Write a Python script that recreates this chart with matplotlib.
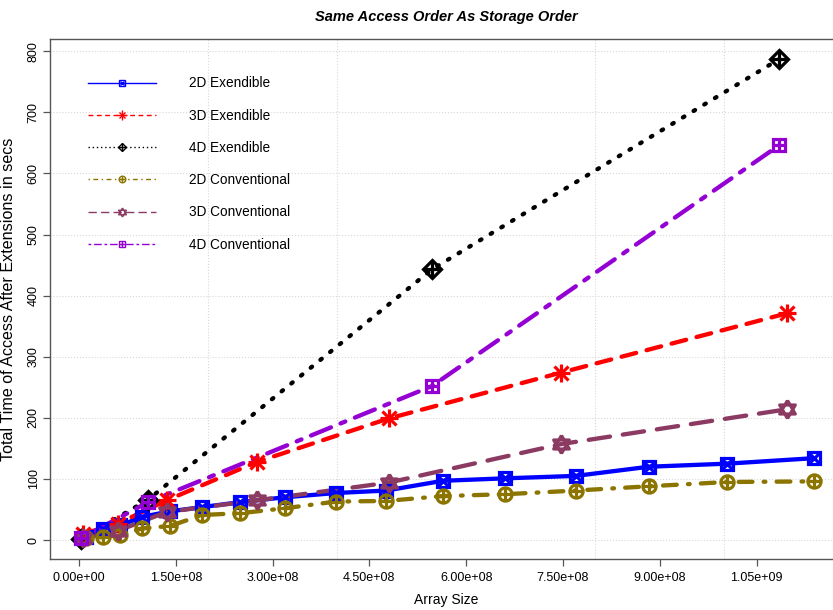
#!/usr/bin/env python
# -*- coding: utf-8 -*-
"""
access time after extensions, same access order as storage order
"""

import numpy as np
import matplotlib
matplotlib.use("Agg")
import matplotlib.pyplot as plt
from matplotlib.lines import Line2D
from matplotlib.ticker import FixedLocator

plt.rcParams['font.family'] = ['Liberation Sans', 'DejaVu Sans']

# array sizes (x) and times in secs (y)
size_2d = [1.1e7, 3.7e7, 6.4e7, 9.8e7, 1.41e8, 1.91e8, 2.50e8, 3.19e8,
           3.98e8, 4.76e8, 5.64e8, 6.60e8, 7.70e8, 8.83e8, 1.004e9, 1.139e9]
ext_2d = [5, 18, 24, 38, 47, 54, 62, 70, 77, 81, 97, 101, 105, 120, 125, 134]
conv_2d = [3, 5, 8, 19, 23, 41, 44, 52, 63, 64, 72, 75, 81, 88, 95, 96]

size_3d = [6e6, 6.0e7, 1.36e8, 2.76e8, 4.80e8, 7.47e8, 1.097e9]
ext_3d = [10, 27, 65, 128, 199, 274, 371]
conv_3d = [3, 15, 46, 65, 94, 157, 214]

size_4d = [3e6, 1.07e8, 5.47e8, 1.085e9]
ext_4d = [2, 66, 443, 787]
conv_4d = [3, 62, 252, 646]

labels = ["2D Exendible", "3D Exendible", "4D Exendible",
          "2D Conventional", "3D Conventional", "4D Conventional"]
xticks = [0, 1.5e8, 3.0e8, 4.5e8, 6.0e8, 7.5e8, 9.0e8, 1.05e9]
xgrid = [0, 2e8, 4e8, 6e8, 8e8, 1e9]
yticks = [0, 100, 200, 300, 400, 500, 600, 700, 800]

tri_up = [(0, 1), (-0.866, -0.5), (0.866, -0.5), (0, 1)]
tri_dn = [(0, -1), (-0.866, 0.5), (0.866, 0.5), (0, -1)]

# (x, y, colour, dashes in plot, dashes in legend, [(marker, size)])
series = [
    (size_2d, ext_2d, '#0000FF', None, None, [('s', 8.5), ('x', 7)]),
    (size_3d, ext_3d, '#FF0000', (3.5, 2.5), (3.5, 2.5), [('+', 13), ('x', 10)]),
    (size_4d, ext_4d, '#000000', (0.4, 2.5), (1, 2), [('D', 9), ('+', 12.5)]),
    (size_2d, conv_2d, '#8B7500', (0.4, 2.6, 3.2, 2.6), (1, 2.5, 3.5, 2.5),
     [('o', 9.5), ('+', 9.5)]),
    (size_3d, conv_3d, '#8B3A62', (5, 3), (6, 3), [(tri_up, 13), (tri_dn, 13)]),
    (size_4d, conv_4d, '#9400D3', (1.2, 2.4, 5, 2.4), (2, 2, 5.5, 2),
     [('s', 8.5), ('+', 8.5)]),
]

fig = plt.figure(figsize=(8.33, 6.10), dpi=100)
ax = fig.add_axes([50/833, 51/610, 793/833, 520/610])

handles = []
for x, y, col, dash, ldash, marks in series:
    ln, = ax.plot(x, y, color=col, lw=3.1, solid_capstyle='round',
                  dash_capstyle='round', zorder=3)
    if dash is not None:
        ln.set_dashes(dash)
    for m, ms in marks:
        ax.plot(x, y, ls='none', marker=m, ms=ms, mec=col, mfc='none',
                mew=2.3, zorder=4)
    # small legend version
    hl = Line2D([], [], color=col, lw=1)
    if ldash is not None:
        hl.set_dashes(ldash)
    hm = [Line2D([], [], ls='none', marker=m, ms=ms * 0.5, mec=col,
                 mfc='none', mew=1) for m, ms in marks]
    handles.append(tuple([hl] + hm))

ax.set_xlim(-4.49e7, 1.184e9)
ax.set_ylim(-31, 820)

ax.set_xticks(xticks)
ax.set_xticklabels(['{:.2e}'.format(v) for v in xticks])
ax.xaxis.set_minor_locator(FixedLocator(xgrid))
ax.set_yticks(yticks)
ax.set_yticklabels([str(v) for v in yticks], rotation=90, va='center')

ax.grid(which='minor', axis='x', color='#D8D8D8', ls=':', lw=0.8)
ax.grid(which='major', axis='y', color='#D8D8D8', ls=':', lw=0.8)
ax.set_axisbelow(True)

for s in ['left', 'bottom', 'top']:
    ax.spines[s].set_color('#555555')
    ax.spines[s].set_linewidth(1.0)
ax.spines['right'].set_visible(False)
ax.tick_params(which='major', length=5, width=0.9, color='#555555',
               labelsize=9)
ax.tick_params(axis='x', which='major', pad=4.5)
ax.tick_params(axis='y', which='major', pad=2.5)
ax.tick_params(which='minor', length=0)

ax.set_xlabel("Array Size", fontsize=10, labelpad=6)
ax.set_ylabel("Total Time of Access After Extensions in secs", fontsize=11.6)
ax.yaxis.set_label_coords(-34/793, 0.5)
ax.set_title("Same Access Order As Storage Order", fontsize=10.5,
             fontweight='bold', fontstyle='italic', pad=13)

ax.legend(handles, labels, loc='upper left', bbox_to_anchor=(0.0479, 0.928),
          frameon=False, fontsize=9.8, handlelength=5.0, handletextpad=2.4,
          labelspacing=1.34, borderpad=0, borderaxespad=0)

fig.savefig("out.png", dpi=100)
